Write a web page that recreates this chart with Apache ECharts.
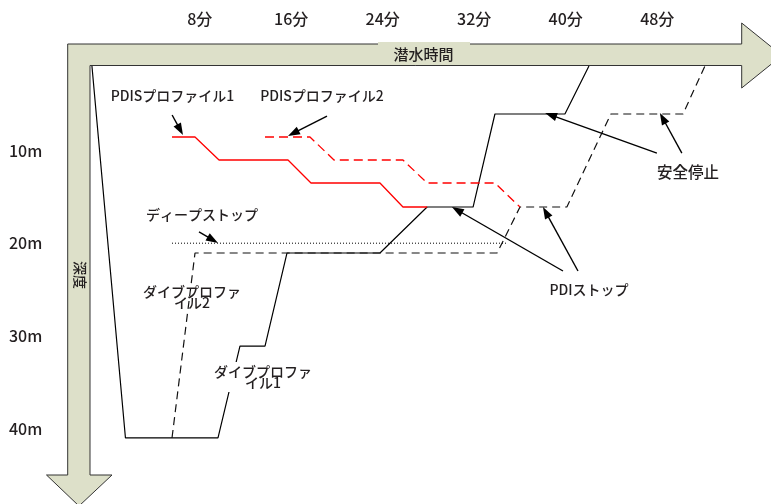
<!DOCTYPE html>
<html><head><meta charset="utf-8">
<script src="https://cdn.jsdelivr.net/npm/echarts@6/dist/echarts.min.js"></script>
<style>html,body{margin:0;padding:0;background:#fff}#c{width:771px;height:504px}</style>
</head><body><div id="c"></div>
<script>
// ---- data (time in minutes, depth in metres) ----
const timeTicks = [8, 16, 24, 32, 40, 48];
const depthTicks = [10, 20, 30, 40];
const dive1 = [[-1.42,0.89],[1.51,41.0],[9.60,41.0],[11.52,31.1],[13.71,31.1],[15.63,21.06],[23.76,21.06],[27.88,16.1],[31.9,16.1],[33.81,6.07],[39.93,6.07],[42.03,0.89]];
const dive2 = [[5.58,41.0],[7.59,21.06],[34.0,21.06],[36.0,16.1],[40.1,16.1],[43.95,6.07],[50.25,6.07],[52.17,0.89]];
const deepStop = [[5.58,20.0],[34.95,20.0]];
const pdis1 = [[5.58,8.55],[7.59,8.55],[9.69,11.03],[15.72,11.03],[17.73,13.51],[23.76,13.51],[25.77,16.1],[27.88,16.1]];
const pdis2 = [[13.71,8.55],[17.64,8.55],[19.74,11.03],[25.77,11.03],[27.88,13.51],[33.81,13.51],[36.0,16.1]];
// annotation arrows: [from, to] in data coords
const pointers = [
  [[5.59,6.18],[6.54,8.33]],
  [[19.13,6.29],[15.72,8.44]],
  [[7.94,18.79],[9.6,19.98]],
  [[47.97,10.28],[38.2,5.96]],
  [[50.15,10.28],[48.23,5.96]],
  [[39.76,23.0],[30.05,16.1]],
  [[41.07,23.0],[38.01,16.1]]
];
const notes = ['PDISプロファイル1','PDISプロファイル2','ディープストップ','安全停止','PDIストップ','ダイブプロファ\nイル2','ダイブプロファ\nイル1'];
const axisNames = ['潜水時間','深度'];

const TXT = '#231f20';
const FILL = '#dde0c9';
const FONT = '"Noto Sans CJK JP", "Noto Sans", sans-serif';
const W = 500;
const chart = echarts.init(document.getElementById('c'));

function note(i, x, y, size, extra) {
  return {type:'text', x:x, y:y, z:100, style:Object.assign({text:notes[i], fill:TXT, font:W+' '+size+'px '+FONT, align:'center', verticalAlign:'middle'}, extra||{})};
}

const baseGraphics = [
  {type:'polygon', z:0, shape:{points:[[67.7,44],[741.7,44],[741.7,23],[782,55.5],[741.7,88],[741.7,65.5],[90,65.5],[90,475],[112,475],[79,506],[46.5,475],[67.7,475]]},
    style:{fill:FILL, stroke:'#333', lineWidth:1}},
  {type:'rect', z:1, shape:{x:378, y:42, width:92, height:20}, style:{fill:FILL}},
  {type:'text', x:423.5, y:54.5, z:100, style:{text:axisNames[0], fill:TXT, font:W+' 15px '+FONT, align:'center', verticalAlign:'middle'}},
  {type:'text', x:80, y:275, rotation:-Math.PI/2, z:100, style:{text:axisNames[1], fill:TXT, font:W+' 14px '+FONT, align:'center', verticalAlign:'middle'}},
  note(0, 172.5, 96, 14),
  note(1, 322, 96, 14),
  note(2, 202, 215, 14),
  note(3, 688, 172, 15.5),
  note(4, 589, 290, 14),
  note(5, 192, 297, 14, {lineHeight:11}),
  note(6, 263, 377, 14, {lineHeight:11, backgroundColor:'#fff', padding:[6,0,2,0]})
];

chart.setOption({
  animation:false,
  backgroundColor:'#fff',
  grid:{left:85.3, top:57.7, width:674.9, height:435.9, outerBoundsMode:'none', containLabel:false},
  xAxis:{type:'value', position:'top', min:-2, max:57,
    axisLine:{show:false}, axisTick:{show:false}, splitLine:{show:false},
    axisLabel:{customValues:timeTicks, formatter:v=>v+'分', margin:31, fontSize:16, fontWeight:W, color:TXT, fontFamily:FONT}},
  yAxis:{type:'value', inverse:true, min:0, max:47,
    axisLine:{show:false}, axisTick:{show:false}, splitLine:{show:false},
    axisLabel:{customValues:depthTicks, formatter:v=>v+'m', margin:43, fontSize:16, fontWeight:W, color:TXT, fontFamily:FONT}},
  graphic:baseGraphics,
  series:[
    {type:'line', data:dive1, symbol:'none', z:3, lineStyle:{color:'#000', width:1.2}},
    {type:'line', data:dive2, symbol:'none', z:3, lineStyle:{color:'#111', width:1.2, type:[8,5]}},
    {type:'line', data:deepStop, symbol:'none', z:3, lineStyle:{color:'#000', width:1, type:[1,2]}},
    {type:'line', data:pdis1, symbol:'none', z:4, lineStyle:{color:'#ff0000', width:1.3}},
    {type:'line', data:pdis2, symbol:'none', z:4, lineStyle:{color:'#ff0000', width:1.3, type:[9,5]}}
  ]
});

// pointer arrows placed through the chart's own scales
const arrowGraphics = [];
pointers.forEach(p => {
  const a = chart.convertToPixel({gridIndex:0}, p[0]);
  const b = chart.convertToPixel({gridIndex:0}, p[1]);
  const dx = b[0]-a[0], dy = b[1]-a[1], L = Math.hypot(dx, dy);
  const ux = dx/L, uy = dy/L, hl = 12, hw = 4.2;
  const bx = b[0]-ux*hl, by = b[1]-uy*hl;
  arrowGraphics.push({type:'line', z:90, shape:{x1:a[0], y1:a[1], x2:bx+ux*2, y2:by+uy*2}, style:{stroke:'#000', lineWidth:1.4}});
  arrowGraphics.push({type:'polygon', z:90, shape:{points:[[b[0],b[1]],[bx-uy*hw,by+ux*hw],[bx+uy*hw,by-ux*hw]]}, style:{fill:'#000'}});
});
chart.setOption({graphic:baseGraphics.concat(arrowGraphics)});
</script></body></html>
